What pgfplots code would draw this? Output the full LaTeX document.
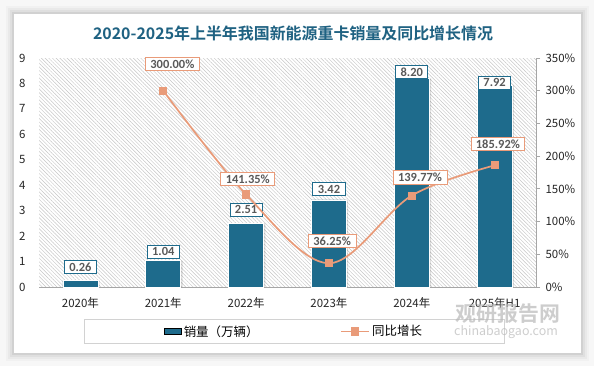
\documentclass[border=0pt]{standalone}
\usepackage{pgfplots}
\pgfplotsset{compat=1.18}
\usepackage{fontspec}
\setmainfont{Noto Sans CJK SC}[BoldFont={Noto Sans CJK SC Bold}]
\newfontfamily\lab{Carlito}
\usetikzlibrary{patterns.meta}
\definecolor{barblue}{HTML}{1E6B8C}
\definecolor{titleblue}{HTML}{1F6282}
\definecolor{lineor}{HTML}{E99B79}
\definecolor{labgray}{HTML}{595959}
\pgfplotsset{linelegend/.style={legend image code/.code={\draw[##1, mark repeat=2, mark phase=2] plot coordinates {(0bp,0bp) (14bp,0bp) (28bp,0bp)};}}}
\begin{document}
\begin{tikzpicture}[x=1bp,y=1bp]
\useasboundingbox (0,0) rectangle (594,366);
\fill[gray!6] (0,0) rectangle (594,366);
\foreach \i/\o in {8/0.025,6/0.03,4/0.04,2/0.06} {\fill[black,opacity=\o] (14-\i,13-\i) rectangle (581+\i,352+\i);}
\fill[white] (14,13) rectangle (581,352);
\node[font=\bfseries\fontsize{16}{18}\selectfont, text=titleblue] at (293,333) {2020-2025年上半年我国新能源重卡销量及同比增长情况};

\begin{axis}[at={(80.42bp,79bp)}, anchor=origin, scale only axis,
  width=497bp, height=229bp,
  xmin=-0.5, xmax=5.5, ymin=0, ymax=9,
  ytick={0,1,...,9},
  xtick={0,1,2,3,4,5},
  xticklabels={2020年,2021年,2022年,2023年,2024年,2025年H1},
  axis x line*=bottom, axis y line*=left,
  y axis line style={draw=none},
  x axis line style={draw=gray!70, line width=0.8bp},
  major tick length=0,
  /pgf/number format/assume math mode=true,
  tick label style={font=\fontsize{11.5}{12}\selectfont, text=black!85},
  yticklabel style={xshift=-10bp},
  xticklabel style={yshift=-7bp},
  extra x ticks={0.12,1.12,2.12,3.12,4.12},
  extra x tick labels={},
  extra x tick style={major tick length=5bp, tick align=outside, tick style={draw=black!70, yshift=-10bp}},
  axis background/.style={pattern={Lines[angle=-45,distance=2.6bp,line width=0.45bp]}, pattern color=gray!45},
  clip=false,
]
\addplot[ybar, bar width=35bp, bar shift=1.8bp, fill=black, fill opacity=0.12, draw=none] coordinates {(0,0.26) (1,1.04) (2,2.51) (3,3.42) (4,8.20) (5,7.92)};
\addplot[ybar, bar width=35bp, fill=barblue, draw=white, line width=0.7bp] coordinates {(0,0.26) (1,1.04) (2,2.51) (3,3.42) (4,8.20) (5,7.92)};
\addplot[draw=none, mark=none, nodes near coords, point meta=explicit symbolic,
  nodes near coords style={anchor=center, draw=barblue, line width=0.8bp, fill=white, text=labgray, font=\lab\bfseries\fontsize{12.5}{13}\selectfont, inner xsep=5bp, inner ysep=2.5bp}]
  coordinates {(0,0.79)[0.26] (1,1.38)[1.04] (2,3.03)[2.51] (3,3.85)[3.42] (4,8.45)[8.20] (5,8.02)[7.92]};
\end{axis}

\begin{axis}[at={(80.42bp,79bp)}, anchor=origin, scale only axis,
  width=497bp, height=229bp,
  xmin=-0.5, xmax=5.5, ymin=0, ymax=350,
  ytick={0,50,...,350},
  yticklabel={\pgfmathprintnumber{\tick}\%},
  axis y line*=right, axis x line=none,
  y axis line style={draw=gray!70, line width=0.8bp},
  ytick style={draw=gray!70, line width=0.8bp},
  tick align=outside, major tick length=4bp,
  /pgf/number format/assume math mode=true,
  tick label style={font=\fontsize{11.5}{12}\selectfont, text=black!85},
  yticklabel style={xshift=2bp},
  clip=false,
  legend columns=2,
  legend style={at={(0.513,-0.1943)}, anchor=center, draw=gray!35, line width=0.8bp,
    inner xsep=80bp, inner ysep=4bp, font=\fontsize{12.5}{14}\selectfont,
    /tikz/every even column/.append style={column sep=80bp}},
]
\addlegendimage{area legend, fill=barblue, draw=none}
\addlegendentry{销量（万辆）}
\addplot[smooth, tension=0.55, color=lineor, line width=1.7bp, mark=square*, mark size=3.2bp,
  mark options={fill=lineor, draw=lineor}, linelegend]
  coordinates {(1,300) (2,141.35) (3,36.25) (4,139.77) (5,185.92)};
\addlegendentry{同比增长}
\addplot[draw=none, mark=none, nodes near coords, point meta=explicit symbolic,
  nodes near coords style={anchor=center, draw=lineor, line width=0.8bp, fill=white, text=labgray, font=\lab\bfseries\fontsize{12.5}{13}\selectfont, inner xsep=5bp, inner ysep=2.5bp}]
  coordinates {(1.11,341)[300.00\%] (2.02,165)[141.35\%] (3.04,70.3)[36.25\%] (4.1,168)[139.77\%] (5.04,218.5)[185.92\%]};
\end{axis}

\node[text=gray!55, opacity=0.7, font=\bfseries\fontsize{21}{21}\selectfont] at (508,52) {观研报告网};
\node[text=gray!55, opacity=0.7, font=\fontsize{12.5}{13}\selectfont] at (506,34) {chinabaogao.com};
\end{tikzpicture}
\end{document}
